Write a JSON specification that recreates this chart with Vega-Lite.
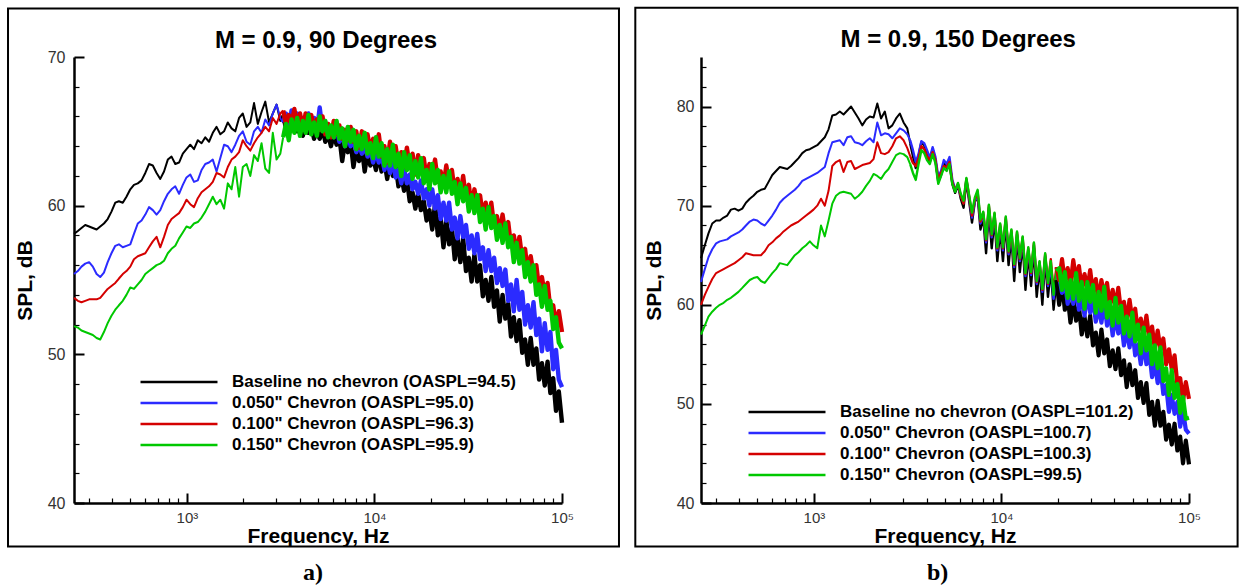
{
"$schema": "https://vega.github.io/schema/vega-lite/v6.json",
"background": "white",
"padding": {"left": 7, "top": 6, "right": 2, "bottom": 0},
"spacing": 14,
"config": {
 "font": "Liberation Sans",
 "view": {"stroke": null},
 "axis": {"grid": false, "domainColor": "black", "tickColor": "black", "labelColor": "#333333", "labelFont": "Liberation Sans", "labelFontSize": 15, "titleFont": "Liberation Sans", "titleFontWeight": "bold", "titleFontSize": 21, "titleColor": "black", "labelFlush": false, "labelOverlap": false},
 "legend": {"orient": "none", "title": null, "symbolType": "M-5,0H5", "symbolSize": 237, "symbolStrokeWidth": 2.5, "labelFont": "Liberation Sans", "labelFontSize": 17, "labelFontWeight": "bold", "labelColor": "black", "labelOffset": 44, "rowPadding": 4, "padding": 0, "labelLimit": 400}
},
"datasets": {
"p90": [
{"f":250,"a":58.1,"b":55.4,"c":53.8,"d":51.9},
{"f":262,"a":58.3,"b":55.6,"c":53.6,"d":51.8},
{"f":274,"a":58.5,"b":55.9,"c":53.5,"d":51.6},
{"f":287,"a":58.7,"b":56.1,"c":53.6,"d":51.5},
{"f":301,"a":58.6,"b":56.2,"c":53.7,"d":51.4},
{"f":315,"a":58.5,"b":55.9,"c":53.7,"d":51.3},
{"f":330,"a":58.4,"b":55.4,"c":53.7,"d":51.1},
{"f":345,"a":58.6,"b":55.2,"c":53.8,"d":51.0},
{"f":361,"a":58.8,"b":55.5,"c":54.1,"d":51.5},
{"f":378,"a":59.1,"b":56.2,"c":54.4,"d":52.1},
{"f":396,"a":59.6,"b":56.8,"c":54.6,"d":52.6},
{"f":415,"a":60.2,"b":57.3,"c":54.8,"d":53.0},
{"f":434,"a":60.3,"b":57.4,"c":55.1,"d":53.3},
{"f":455,"a":60.2,"b":57.2,"c":55.4,"d":53.6},
{"f":476,"a":60.6,"b":57.3,"c":55.6,"d":54.0},
{"f":499,"a":61.1,"b":57.4,"c":55.9,"d":54.5},
{"f":522,"a":61.4,"b":58.1,"c":56.4,"d":54.4},
{"f":547,"a":61.5,"b":58.8,"c":56.6,"d":54.7},
{"f":573,"a":61.7,"b":59.0,"c":56.7,"d":55.0},
{"f":600,"a":62.2,"b":59.4,"c":56.8,"d":55.4},
{"f":628,"a":62.8,"b":59.9,"c":57.2,"d":55.6},
{"f":658,"a":62.7,"b":59.7,"c":57.6,"d":55.8},
{"f":689,"a":62.2,"b":59.4,"c":57.9,"d":56.0},
{"f":721,"a":61.8,"b":59.7,"c":57.2,"d":56.1},
{"f":755,"a":62.3,"b":60.3,"c":57.9,"d":56.3},
{"f":791,"a":63.1,"b":60.8,"c":58.7,"d":56.8},
{"f":828,"a":63.3,"b":61.1,"c":59.1,"d":57.1},
{"f":867,"a":62.8,"b":61.3,"c":59.3,"d":57.3},
{"f":908,"a":62.9,"b":60.8,"c":59.5,"d":57.8},
{"f":951,"a":63.5,"b":61.4,"c":59.9,"d":58.2},
{"f":995,"a":63.8,"b":61.9,"c":60.4,"d":58.6},
{"f":1042,"a":64.1,"b":62.1,"c":60.1,"d":58.5},
{"f":1091,"a":63.8,"b":61.6,"c":59.9,"d":58.8},
{"f":1143,"a":64.4,"b":61.7,"c":60.5,"d":58.9},
{"f":1197,"a":64.2,"b":62.4,"c":60.9,"d":59.2},
{"f":1253,"a":64.6,"b":62.8,"c":61.1,"d":59.6},
{"f":1312,"a":64.3,"b":62.9,"c":61.3,"d":60.1},
{"f":1374,"a":64.9,"b":63.1,"c":61.6,"d":60.6},
{"f":1439,"a":65.3,"b":62.3,"c":62.2,"d":60.1},
{"f":1507,"a":64.8,"b":63.2,"c":62.1,"d":60.4},
{"f":1578,"a":65.0,"b":64.1,"c":61.9,"d":59.8},
{"f":1652,"a":65.6,"b":64.0,"c":62.6,"d":61.5},
{"f":1730,"a":65.2,"b":63.6,"c":63.1,"d":61.1},
{"f":1811,"a":65.0,"b":64.1,"c":63.3,"d":62.6},
{"f":1897,"a":65.9,"b":64.7,"c":63.6,"d":60.6},
{"f":1986,"a":66.2,"b":65.0,"c":64.4,"d":62.6},
{"f":2080,"a":65.3,"b":64.3,"c":64.0,"d":62.8},
{"f":2178,"a":65.6,"b":64.1,"c":63.7,"d":62.0},
{"f":2280,"a":66.9,"b":65.0,"c":64.2,"d":63.4},
{"f":2388,"a":65.5,"b":65.3,"c":64.6,"d":63.0},
{"f":2500,"a":66.3,"b":64.9,"c":64.9,"d":64.2},
{"f":2618,"a":67.0,"b":65.8,"c":65.3,"d":62.5},
{"f":2742,"a":65.6,"b":65.4,"c":65.0,"d":62.2},
{"f":2871,"a":66.2,"b":66.2,"c":65.9,"d":64.9},
{"f":3006,"a":66.8,"b":66.8,"c":65.5,"d":63.1},
{"f":3148,"a":65.7,"b":65.9,"c":66.2,"d":63.5},
{"f":3260,"a":66.1,"b":65.6,"c":66.4,"d":64.6},
{"f":3373,"a":65.2,"b":66.2,"c":65.5,"d":65.5},
{"f":3491,"a":65.9,"b":65.4,"c":66.1,"d":64.4},
{"f":3614,"a":65.2,"b":66.4,"c":65.5,"d":65.8},
{"f":3741,"a":65.9,"b":65.7,"c":66.5,"d":64.9},
{"f":3873,"a":65.0,"b":66.2,"c":65.4,"d":65.9},
{"f":4009,"a":65.5,"b":65.4,"c":66.2,"d":64.7},
{"f":4150,"a":64.7,"b":65.9,"c":65.1,"d":65.7},
{"f":4295,"a":65.6,"b":65.4,"c":66.2,"d":64.9},
{"f":4446,"a":64.9,"b":66.2,"c":65.5,"d":66.1},
{"f":4603,"a":65.4,"b":65.3,"c":66.1,"d":64.8},
{"f":4764,"a":64.5,"b":65.9,"c":65.1,"d":65.6},
{"f":4932,"a":65.0,"b":65.0,"c":65.8,"d":64.7},
{"f":5105,"a":64.5,"b":66.6,"c":65.1,"d":66.0},
{"f":5284,"a":65.2,"b":65.1,"c":66.0,"d":65.0},
{"f":5470,"a":64.3,"b":65.6,"c":64.8,"d":65.7},
{"f":5662,"a":64.8,"b":64.7,"c":65.5,"d":64.6},
{"f":5861,"a":64.0,"b":65.3,"c":64.6,"d":65.4},
{"f":6067,"a":64.8,"b":64.6,"c":65.7,"d":64.6},
{"f":6281,"a":64.1,"b":65.3,"c":64.8,"d":65.7},
{"f":6501,"a":64.6,"b":64.3,"c":65.4,"d":64.5},
{"f":6730,"a":63.0,"b":64.8,"c":64.5,"d":65.2},
{"f":6966,"a":64.3,"b":64.0,"c":65.1,"d":64.0},
{"f":7211,"a":63.6,"b":64.8,"c":64.4,"d":65.3},
{"f":7464,"a":64.3,"b":64.0,"c":65.3,"d":64.3},
{"f":7727,"a":62.6,"b":64.5,"c":64.3,"d":65.1},
{"f":7998,"a":63.8,"b":63.6,"c":65.0,"d":63.8},
{"f":8279,"a":63.0,"b":64.1,"c":63.9,"d":64.7},
{"f":8570,"a":63.9,"b":63.5,"c":65.0,"d":63.8},
{"f":8872,"a":62.3,"b":64.2,"c":64.2,"d":64.9},
{"f":9183,"a":63.6,"b":63.3,"c":64.8,"d":63.5},
{"f":9506,"a":62.7,"b":63.8,"c":63.8,"d":64.2},
{"f":9840,"a":63.2,"b":62.9,"c":64.5,"d":63.2},
{"f":10186,"a":62.4,"b":63.7,"c":63.6,"d":64.6},
{"f":10544,"a":63.5,"b":62.9,"c":64.8,"d":63.3},
{"f":10914,"a":62.3,"b":63.5,"c":63.3,"d":64.2},
{"f":11298,"a":63.0,"b":62.4,"c":64.0,"d":62.7},
{"f":11695,"a":61.8,"b":63.1,"c":62.9,"d":63.8},
{"f":12106,"a":63.0,"b":62.2,"c":64.3,"d":62.7},
{"f":12531,"a":62.0,"b":63.1,"c":63.1,"d":64.1},
{"f":12972,"a":62.7,"b":61.9,"c":64.0,"d":62.6},
{"f":13428,"a":61.3,"b":62.4,"c":62.7,"d":63.5},
{"f":13900,"a":62.0,"b":61.5,"c":63.6,"d":62.0},
{"f":14388,"a":61.0,"b":62.5,"c":62.6,"d":63.6},
{"f":14894,"a":61.8,"b":61.5,"c":63.9,"d":62.4},
{"f":15417,"a":60.3,"b":62.1,"c":62.6,"d":63.4},
{"f":15959,"a":60.9,"b":61.1,"c":63.5,"d":61.8},
{"f":16520,"a":59.8,"b":61.6,"c":62.1,"d":63.0},
{"f":17100,"a":60.8,"b":60.8,"c":63.4,"d":61.9},
{"f":17701,"a":59.7,"b":61.7,"c":62.4,"d":63.2},
{"f":18323,"a":60.3,"b":60.5,"c":63.2,"d":61.5},
{"f":18967,"a":59.0,"b":61.1,"c":61.8,"d":62.4},
{"f":19634,"a":59.7,"b":60.0,"c":62.8,"d":61.1},
{"f":20324,"a":58.4,"b":61.1,"c":61.9,"d":62.8},
{"f":21038,"a":60.1,"b":59.8,"c":63.1,"d":61.5},
{"f":21777,"a":58.0,"b":60.7,"c":61.6,"d":62.4},
{"f":22542,"a":59.2,"b":59.1,"c":62.3,"d":60.9},
{"f":23335,"a":57.2,"b":60.2,"c":61.3,"d":62.0},
{"f":24155,"a":59.0,"b":59.0,"c":62.7,"d":60.9},
{"f":25003,"a":57.4,"b":60.2,"c":61.5,"d":62.3},
{"f":25882,"a":58.5,"b":58.4,"c":62.4,"d":60.8},
{"f":26792,"a":56.4,"b":59.2,"c":60.9,"d":61.6},
{"f":27733,"a":57.8,"b":57.8,"c":61.8,"d":60.1},
{"f":28708,"a":56.2,"b":59.3,"c":60.7,"d":61.5},
{"f":29717,"a":57.8,"b":57.9,"c":62.0,"d":60.3},
{"f":30761,"a":55.6,"b":58.7,"c":60.5,"d":61.2},
{"f":31842,"a":56.5,"b":57.1,"c":61.4,"d":59.6},
{"f":32961,"a":54.9,"b":58.0,"c":59.9,"d":60.7},
{"f":34119,"a":56.7,"b":56.8,"c":61.1,"d":59.5},
{"f":35318,"a":54.9,"b":58.1,"c":60.0,"d":60.7},
{"f":36559,"a":56.0,"b":56.4,"c":60.7,"d":58.9},
{"f":37844,"a":53.9,"b":57.2,"c":59.3,"d":59.8},
{"f":39174,"a":55.0,"b":55.6,"c":60.2,"d":58.4},
{"f":40551,"a":53.6,"b":57.0,"c":59.1,"d":59.9},
{"f":41976,"a":55.2,"b":55.6,"c":60.2,"d":58.5},
{"f":43451,"a":53.2,"b":56.5,"c":58.6,"d":59.3},
{"f":44978,"a":54.3,"b":54.8,"c":59.3,"d":57.7},
{"f":46559,"a":52.2,"b":55.8,"c":58.1,"d":58.7},
{"f":48195,"a":54.0,"b":54.6,"c":59.4,"d":57.5},
{"f":49888,"a":52.4,"b":55.7,"c":58.1,"d":58.8},
{"f":51642,"a":53.4,"b":53.6,"c":58.9,"d":57.2},
{"f":53456,"a":51.2,"b":54.7,"c":57.3,"d":57.9},
{"f":55335,"a":52.5,"b":52.9,"c":58.0,"d":56.2},
{"f":57280,"a":50.9,"b":55.0,"c":56.8,"d":57.5},
{"f":59293,"a":52.3,"b":53.0,"c":57.9,"d":56.1},
{"f":61376,"a":50.1,"b":54.2,"c":56.4,"d":57.0},
{"f":63533,"a":51.0,"b":52.0,"c":57.1,"d":55.2},
{"f":65766,"a":49.3,"b":53.3,"c":55.5,"d":56.2},
{"f":68077,"a":51.1,"b":51.8,"c":56.6,"d":54.9},
{"f":70469,"a":49.3,"b":53.5,"c":55.4,"d":56.0},
{"f":72946,"a":50.4,"b":51.3,"c":56.0,"d":54.0},
{"f":75509,"a":48.3,"b":52.4,"c":54.4,"d":54.7},
{"f":78163,"a":49.4,"b":50.2,"c":55.2,"d":53.2},
{"f":80910,"a":47.9,"b":52.1,"c":54.0,"d":54.6},
{"f":83753,"a":49.5,"b":50.3,"c":54.8,"d":53.0},
{"f":86696,"a":47.4,"b":51.5,"c":53.0,"d":53.6},
{"f":89743,"a":48.4,"b":49.0,"c":53.3,"d":51.7},
{"f":92897,"a":46.2,"b":50.3,"c":51.9,"d":52.5},
{"f":96161,"a":47.5,"b":48.3,"c":52.9,"d":50.8},
{"f":100000,"a":45.4,"b":47.8,"c":51.5,"d":50.4}
],
"p150": [
{"f":250,"a":64.7,"b":62.3,"c":60.0,"d":57.0},
{"f":262,"a":66.0,"b":63.6,"c":61.0,"d":57.9},
{"f":274,"a":67.2,"b":64.8,"c":61.8,"d":58.8},
{"f":287,"a":68.2,"b":65.6,"c":62.6,"d":59.3},
{"f":301,"a":68.5,"b":66.2,"c":63.2,"d":59.7},
{"f":315,"a":68.5,"b":66.4,"c":63.4,"d":60.0},
{"f":330,"a":68.8,"b":66.5,"c":63.6,"d":60.2},
{"f":345,"a":69.0,"b":66.6,"c":63.8,"d":60.5},
{"f":361,"a":69.6,"b":66.9,"c":64.0,"d":60.7},
{"f":378,"a":69.7,"b":67.1,"c":64.2,"d":61.0},
{"f":396,"a":69.5,"b":67.3,"c":64.5,"d":61.3},
{"f":415,"a":69.7,"b":67.6,"c":64.8,"d":61.7},
{"f":434,"a":70.3,"b":68.0,"c":65.2,"d":62.1},
{"f":455,"a":70.7,"b":68.4,"c":65.1,"d":62.5},
{"f":476,"a":71.0,"b":68.6,"c":65.0,"d":62.7},
{"f":499,"a":71.4,"b":68.5,"c":65.0,"d":62.8},
{"f":522,"a":71.6,"b":68.2,"c":65.0,"d":62.4},
{"f":547,"a":71.7,"b":68.0,"c":65.4,"d":62.2},
{"f":573,"a":72.4,"b":68.5,"c":66.0,"d":62.7},
{"f":600,"a":73.1,"b":69.0,"c":66.3,"d":63.2},
{"f":628,"a":73.5,"b":69.6,"c":66.7,"d":63.6},
{"f":658,"a":73.9,"b":70.3,"c":67.0,"d":64.2},
{"f":689,"a":73.8,"b":70.7,"c":67.4,"d":64.1},
{"f":721,"a":73.7,"b":71.0,"c":67.7,"d":64.0},
{"f":755,"a":74.0,"b":71.3,"c":68.0,"d":64.5},
{"f":791,"a":74.4,"b":71.6,"c":68.2,"d":65.0},
{"f":828,"a":74.8,"b":72.0,"c":68.4,"d":65.3},
{"f":867,"a":75.3,"b":72.5,"c":68.7,"d":65.7},
{"f":908,"a":75.6,"b":72.7,"c":69.0,"d":66.0},
{"f":951,"a":75.7,"b":72.9,"c":69.3,"d":66.4},
{"f":995,"a":75.9,"b":73.1,"c":69.6,"d":66.0},
{"f":1042,"a":76.1,"b":73.3,"c":70.0,"d":65.7},
{"f":1091,"a":76.5,"b":73.6,"c":70.7,"d":68.0},
{"f":1143,"a":76.9,"b":73.9,"c":70.0,"d":66.9},
{"f":1197,"a":77.7,"b":75.3,"c":71.5,"d":68.5},
{"f":1253,"a":79.1,"b":76.4,"c":74.0,"d":70.2},
{"f":1312,"a":79.2,"b":76.5,"c":74.4,"d":71.0},
{"f":1374,"a":79.5,"b":76.6,"c":74.6,"d":71.3},
{"f":1439,"a":79.2,"b":76.1,"c":73.4,"d":71.4},
{"f":1507,"a":79.6,"b":76.9,"c":74.4,"d":71.3},
{"f":1578,"a":80.0,"b":77.0,"c":74.5,"d":71.2},
{"f":1652,"a":79.4,"b":76.4,"c":73.7,"d":70.7},
{"f":1730,"a":78.8,"b":76.3,"c":73.9,"d":71.0},
{"f":1811,"a":78.1,"b":76.1,"c":74.1,"d":71.4},
{"f":1897,"a":78.7,"b":76.5,"c":74.2,"d":72.0},
{"f":1986,"a":79.0,"b":76.8,"c":74.3,"d":72.5},
{"f":2080,"a":78.9,"b":76.4,"c":74.7,"d":73.2},
{"f":2178,"a":80.3,"b":78.4,"c":76.4,"d":73.0},
{"f":2280,"a":78.8,"b":77.1,"c":75.3,"d":72.7},
{"f":2388,"a":79.5,"b":77.3,"c":75.2,"d":73.3},
{"f":2500,"a":77.8,"b":77.2,"c":75.4,"d":73.7},
{"f":2618,"a":78.1,"b":76.8,"c":76.0,"d":74.4},
{"f":2742,"a":78.8,"b":77.3,"c":76.8,"d":75.1},
{"f":2871,"a":79.3,"b":77.8,"c":77.0,"d":75.3},
{"f":3006,"a":78.4,"b":77.6,"c":76.6,"d":75.2},
{"f":3148,"a":77.8,"b":77.2,"c":75.8,"d":74.9},
{"f":3260,"a":76.3,"b":76.6,"c":75.0,"d":74.2},
{"f":3373,"a":75.0,"b":75.6,"c":74.3,"d":73.3},
{"f":3491,"a":73.8,"b":74.4,"c":74.0,"d":72.6},
{"f":3614,"a":75.0,"b":75.2,"c":74.8,"d":74.2},
{"f":3741,"a":76.4,"b":76.5,"c":76.0,"d":75.6},
{"f":3873,"a":76.1,"b":76.3,"c":75.7,"d":75.3},
{"f":4009,"a":75.0,"b":75.6,"c":75.0,"d":74.6},
{"f":4150,"a":74.4,"b":74.8,"c":74.6,"d":74.2},
{"f":4295,"a":75.7,"b":75.9,"c":75.4,"d":75.2},
{"f":4446,"a":74.6,"b":74.9,"c":74.6,"d":74.3},
{"f":4603,"a":72.4,"b":72.9,"c":72.6,"d":72.2},
{"f":4764,"a":73.1,"b":73.5,"c":73.3,"d":73.0},
{"f":4932,"a":74.3,"b":74.6,"c":74.0,"d":73.8},
{"f":5105,"a":73.8,"b":74.2,"c":73.9,"d":73.5},
{"f":5284,"a":74.3,"b":74.9,"c":74.4,"d":74.2},
{"f":5470,"a":72.2,"b":72.6,"c":72.4,"d":72.2},
{"f":5662,"a":71.3,"b":71.7,"c":71.5,"d":71.4},
{"f":5861,"a":72.1,"b":72.0,"c":72.2,"d":72.3},
{"f":6067,"a":70.7,"b":71.0,"c":71.0,"d":71.2},
{"f":6281,"a":69.8,"b":70.3,"c":70.2,"d":70.5},
{"f":6501,"a":72.5,"b":72.6,"c":72.7,"d":72.8},
{"f":6730,"a":70.4,"b":70.8,"c":70.9,"d":71.0},
{"f":6966,"a":68.3,"b":68.8,"c":69.0,"d":69.3},
{"f":7211,"a":70.4,"b":70.4,"c":70.6,"d":70.8},
{"f":7464,"a":71.0,"b":71.2,"c":71.4,"d":71.6},
{"f":7727,"a":67.6,"b":68.2,"c":68.4,"d":68.6},
{"f":7998,"a":68.8,"b":69.1,"c":69.3,"d":69.4},
{"f":8279,"a":65.2,"b":66.3,"c":66.5,"d":66.6},
{"f":8570,"a":69.5,"b":69.8,"c":70.0,"d":70.1},
{"f":8872,"a":65.7,"b":66.8,"c":67.0,"d":67.1},
{"f":9183,"a":68.7,"b":69.0,"c":69.2,"d":69.3},
{"f":9506,"a":64.4,"b":65.5,"c":65.7,"d":65.8},
{"f":9840,"a":67.6,"b":67.9,"c":68.1,"d":68.2},
{"f":10186,"a":64.4,"b":65.5,"c":65.7,"d":65.8},
{"f":10544,"a":68.3,"b":68.6,"c":68.8,"d":68.9},
{"f":10914,"a":64.0,"b":65.1,"c":65.3,"d":65.4},
{"f":11298,"a":67.0,"b":67.3,"c":67.5,"d":67.6},
{"f":11695,"a":62.4,"b":63.8,"c":64.0,"d":64.1},
{"f":12106,"a":66.8,"b":67.1,"c":67.3,"d":67.4},
{"f":12531,"a":63.3,"b":64.4,"c":64.6,"d":64.7},
{"f":12972,"a":66.3,"b":66.6,"c":66.8,"d":66.9},
{"f":13428,"a":61.5,"b":62.9,"c":63.1,"d":63.2},
{"f":13900,"a":65.2,"b":65.5,"c":65.7,"d":65.8},
{"f":14388,"a":61.9,"b":63.0,"c":63.2,"d":63.3},
{"f":14894,"a":65.7,"b":66.0,"c":66.2,"d":66.3},
{"f":15417,"a":60.8,"b":62.1,"c":62.3,"d":62.4},
{"f":15959,"a":63.8,"b":64.1,"c":64.3,"d":64.4},
{"f":16520,"a":60.0,"b":61.3,"c":61.5,"d":61.6},
{"f":17100,"a":64.6,"b":64.9,"c":65.1,"d":65.2},
{"f":17701,"a":60.8,"b":61.9,"c":62.1,"d":62.2},
{"f":18323,"a":63.6,"b":64.0,"c":64.6,"d":64.4},
{"f":18967,"a":59.5,"b":60.6,"c":61.3,"d":61.0},
{"f":19634,"a":62.5,"b":62.9,"c":63.8,"d":63.4},
{"f":20324,"a":60.0,"b":62.9,"c":62.5,"d":63.7},
{"f":21038,"a":62.2,"b":61.2,"c":64.6,"d":61.5},
{"f":21777,"a":59.5,"b":62.5,"c":62.3,"d":63.3},
{"f":22542,"a":60.9,"b":60.1,"c":63.7,"d":60.7},
{"f":23335,"a":58.2,"b":61.8,"c":62.0,"d":62.5},
{"f":24155,"a":60.6,"b":60.1,"c":64.5,"d":60.6},
{"f":25003,"a":58.4,"b":62.0,"c":62.5,"d":63.2},
{"f":25882,"a":59.9,"b":59.5,"c":63.9,"d":60.4},
{"f":26792,"a":57.0,"b":60.7,"c":61.6,"d":62.3},
{"f":27733,"a":58.8,"b":58.9,"c":63.1,"d":59.6},
{"f":28708,"a":56.8,"b":61.2,"c":61.5,"d":62.3},
{"f":29717,"a":58.9,"b":59.2,"c":63.5,"d":60.3},
{"f":30761,"a":55.9,"b":60.6,"c":61.2,"d":62.0},
{"f":31842,"a":57.2,"b":58.3,"c":62.6,"d":59.2},
{"f":32961,"a":54.9,"b":59.8,"c":60.4,"d":61.3},
{"f":34119,"a":57.5,"b":58.2,"c":62.5,"d":59.4},
{"f":35318,"a":55.1,"b":60.3,"c":60.9,"d":61.8},
{"f":36559,"a":56.5,"b":57.9,"c":62.2,"d":58.7},
{"f":37844,"a":53.8,"b":59.3,"c":59.8,"d":60.3},
{"f":39174,"a":55.4,"b":56.9,"c":61.5,"d":57.9},
{"f":40551,"a":53.5,"b":58.9,"c":59.8,"d":60.7},
{"f":41976,"a":55.6,"b":57.1,"c":61.7,"d":58.2},
{"f":43451,"a":52.9,"b":58.4,"c":59.2,"d":59.9},
{"f":44978,"a":54.4,"b":55.9,"c":60.3,"d":57.1},
{"f":46559,"a":51.7,"b":57.5,"c":58.3,"d":58.8},
{"f":48195,"a":54.0,"b":55.7,"c":60.5,"d":56.8},
{"f":49888,"a":51.9,"b":57.5,"c":58.4,"d":59.2},
{"f":51642,"a":53.4,"b":54.9,"c":59.6,"d":56.3},
{"f":53456,"a":50.6,"b":56.0,"c":57.2,"d":58.0},
{"f":55335,"a":52.2,"b":54.0,"c":58.6,"d":55.1},
{"f":57280,"a":50.1,"b":56.2,"c":57.0,"d":57.7},
{"f":59293,"a":52.1,"b":54.0,"c":58.9,"d":55.4},
{"f":61376,"a":48.9,"b":55.2,"c":56.5,"d":57.0},
{"f":63533,"a":50.2,"b":52.7,"c":57.8,"d":54.0},
{"f":65766,"a":47.8,"b":54.1,"c":55.5,"d":55.9},
{"f":68077,"a":50.3,"b":52.1,"c":57.4,"d":53.6},
{"f":70469,"a":47.8,"b":53.7,"c":55.5,"d":55.7},
{"f":72946,"a":49.2,"b":51.0,"c":56.6,"d":52.3},
{"f":75509,"a":46.4,"b":51.9,"c":54.0,"d":53.6},
{"f":78163,"a":47.9,"b":49.2,"c":55.5,"d":50.9},
{"f":80910,"a":45.9,"b":50.9,"c":53.5,"d":53.4},
{"f":83753,"a":48.0,"b":49.0,"c":54.9,"d":50.6},
{"f":86696,"a":45.3,"b":50.2,"c":51.9,"d":52.0},
{"f":89743,"a":46.7,"b":47.7,"c":52.6,"d":49.1},
{"f":92897,"a":44.0,"b":49.3,"c":50.3,"d":50.7},
{"f":96161,"a":46.3,"b":47.4,"c":52.2,"d":48.5},
{"f":100000,"a":43.9,"b":47.0,"c":50.5,"d":48.6}
]
},
"resolve": {"scale": {"x": "independent", "y": "independent", "color": "independent"}, "legend": {"color": "independent"}},
"hconcat": [
{
 "width": 488, "height": 446,
 "resolve": {"axis": {"x": "independent", "y": "independent"}},
 "layer": [
  {
   "data": {"values": [{}]},
   "mark": {"type": "rect", "filled": false, "stroke": "black", "strokeWidth": 2},
   "encoding": {
    "x": {"datum": 111.2, "type": "quantitative", "scale": {"type": "log", "domain": [250, 100000], "nice": false}, "axis": {"orient": "bottom", "values": [300,400,500,600,700,800,900,2000,3000,4000,5000,6000,7000,8000,9000,20000,30000,40000,50000,60000,70000,80000,90000], "labels": false, "domain": false, "tickSize": -5, "tickWidth": 1.2, "title": null}},
    "x2": {"datum": 201300},
    "y": {"datum": 73.27, "type": "quantitative", "scale": {"domain": [40, 70], "nice": false, "zero": false}, "axis": {"orient": "left", "values": [42,44,46,48,52,54,56,58,62,64,66,68], "labels": false, "domain": false, "tickSize": -5, "tickWidth": 1.2, "title": null}},
    "y2": {"datum": 37.07}
   }
  },
  {
   "data": {"values": [{}]},
   "mark": {"type": "text", "text": "M = 0.9, 90 Degrees", "font": "Liberation Sans", "fontSize": 24, "fontWeight": "bold", "align": "center", "baseline": "middle", "color": "black"},
   "encoding": {"x": {"datum": 5515, "type": "quantitative", "axis": null}, "y": {"datum": 71.1, "type": "quantitative", "axis": null}}
  },
  {
   "data": {"values": [{}]},
   "mark": {"type": "text", "text": "a)", "font": "Liberation Serif", "fontSize": 24, "fontWeight": "bold", "align": "center", "baseline": "middle", "color": "black"},
   "encoding": {"x": {"datum": 4701, "type": "quantitative", "axis": null}, "y": {"datum": 35.3, "type": "quantitative", "axis": null}}
  },
  {
   "data": {"name": "p90"},
   "transform": [{"fold": ["a", "b", "c", "d"], "as": ["s", "v"]}, {"filter": {"field": "f", "lte": 3260}}],
   "mark": {"type": "line", "strokeWidth": 2, "strokeJoin": "round"},
   "encoding": {
    "x": {"field": "f", "type": "quantitative", "axis": {"orient": "bottom", "values": [1000, 10000, 100000], "labelExpr": "datum.value == 1000 ? '10³' : datum.value == 10000 ? '10⁴' : '10⁵'", "tickSize": -10, "tickWidth": 2, "domainWidth": 2.5, "labelPadding": 17, "title": "Frequency, Hz", "titlePadding": 0}},
    "y": {"field": "v", "type": "quantitative", "axis": {"orient": "left", "values": [40, 50, 60, 70], "tickSize": -10, "tickWidth": 2, "domainWidth": 2.5, "labelPadding": 19, "labelFontSize": 16, "title": "SPL, dB", "titlePadding": 12}},
    "color": {"field": "s", "type": "nominal", "scale": {"domain": ["a", "b", "c", "d"], "range": ["#000000", "#2b2bff", "#d40000", "#00c800"]},
     "legend": {"legendX": 96, "legendY": 316, "labelExpr": "datum.label == 'a' ? 'Baseline no chevron (OASPL=94.5)' : datum.label == 'b' ? '0.050\"  Chevron (OASPL=95.0)' : datum.label == 'c' ? '0.100\" Chevron (OASPL=96.3)' : '0.150\" Chevron (OASPL=95.9)'"}}
   }
  },
  {
   "data": {"name": "p90"},
   "transform": [{"fold": ["a", "b", "c", "d"], "as": ["s", "v"]}, {"filter": {"field": "f", "gte": 3260}}],
   "mark": {"type": "line", "strokeWidth": 4.4, "strokeJoin": "round"},
   "encoding": {
    "x": {"field": "f", "type": "quantitative", "axis": null},
    "y": {"field": "v", "type": "quantitative", "axis": null},
    "color": {"field": "s", "type": "nominal"}
   }
  }
 ]
},
{
 "width": 488, "height": 446,
 "resolve": {"axis": {"x": "independent", "y": "independent"}},
 "layer": [
  {
   "data": {"values": [{}]},
   "mark": {"type": "rect", "filled": false, "stroke": "black", "strokeWidth": 2},
   "encoding": {
    "x": {"datum": 111.6, "type": "quantitative", "scale": {"type": "log", "domain": [250, 100000], "nice": false}, "axis": {"orient": "bottom", "values": [300,400,500,600,700,800,900,2000,3000,4000,5000,6000,7000,8000,9000,20000,30000,40000,50000,60000,70000,80000,90000], "labels": false, "domain": false, "tickSize": -5, "tickWidth": 1.2, "title": null}},
    "x2": {"datum": 181600},
    "y": {"datum": 89.97, "type": "quantitative", "scale": {"domain": [40, 85], "nice": false, "zero": false}, "axis": {"orient": "left", "values": [42,44,46,48,52,54,56,58,62,64,66,68,72,74,76,78,82,84], "labels": false, "domain": false, "tickSize": -5, "tickWidth": 1.2, "title": null}},
    "y2": {"datum": 35.61}
   }
  },
  {
   "data": {"values": [{}]},
   "mark": {"type": "text", "text": "M = 0.9, 150 Degrees", "font": "Liberation Sans", "fontSize": 24, "fontWeight": "bold", "align": "center", "baseline": "middle", "color": "black"},
   "encoding": {"x": {"datum": 5880, "type": "quantitative", "axis": null}, "y": {"datum": 86.7, "type": "quantitative", "axis": null}}
  },
  {
   "data": {"values": [{}]},
   "mark": {"type": "text", "text": "b)", "font": "Liberation Serif", "fontSize": 24, "fontWeight": "bold", "align": "center", "baseline": "middle", "color": "black"},
   "encoding": {"x": {"datum": 4566, "type": "quantitative", "axis": null}, "y": {"datum": 32.95, "type": "quantitative", "axis": null}}
  },
  {
   "data": {"name": "p150"},
   "transform": [{"fold": ["a", "b", "c", "d"], "as": ["s", "v"]}, {"filter": {"field": "f", "lte": 3260}}],
   "mark": {"type": "line", "strokeWidth": 2, "strokeJoin": "round"},
   "encoding": {
    "x": {"field": "f", "type": "quantitative", "axis": {"orient": "bottom", "values": [1000, 10000, 100000], "labelExpr": "datum.value == 1000 ? '10³' : datum.value == 10000 ? '10⁴' : '10⁵'", "tickSize": -10, "tickWidth": 2, "domainWidth": 2.5, "labelPadding": 17, "title": "Frequency, Hz", "titlePadding": 0}},
    "y": {"field": "v", "type": "quantitative", "axis": {"orient": "left", "values": [40, 50, 60, 70, 80], "tickSize": -10, "tickWidth": 2, "domainWidth": 2.5, "labelPadding": 17, "labelFontSize": 16, "title": "SPL, dB", "titlePadding": 12}},
    "color": {"field": "s", "type": "nominal", "scale": {"domain": ["a", "b", "c", "d"], "range": ["#000000", "#2b2bff", "#d40000", "#00c800"]},
     "legend": {"legendX": 77, "legendY": 346, "labelExpr": "datum.label == 'a' ? 'Baseline no chevron (OASPL=101.2)' : datum.label == 'b' ? '0.050\" Chevron (OASPL=100.7)' : datum.label == 'c' ? '0.100\" Chevron (OASPL=100.3)' : '0.150\" Chevron (OASPL=99.5)'"}}
   }
  },
  {
   "data": {"name": "p150"},
   "transform": [{"fold": ["a", "b", "c", "d"], "as": ["s", "v"]}, {"filter": {"field": "f", "range": [3260, 19634]}}],
   "mark": {"type": "line", "strokeWidth": 2.4, "strokeJoin": "round"},
   "encoding": {
    "x": {"field": "f", "type": "quantitative", "axis": null},
    "y": {"field": "v", "type": "quantitative", "axis": null},
    "color": {"field": "s", "type": "nominal"}
   }
  },
  {
   "data": {"name": "p150"},
   "transform": [{"fold": ["a", "b", "c", "d"], "as": ["s", "v"]}, {"filter": {"field": "f", "gte": 19634}}],
   "mark": {"type": "line", "strokeWidth": 4.2, "strokeJoin": "round"},
   "encoding": {
    "x": {"field": "f", "type": "quantitative", "axis": null},
    "y": {"field": "v", "type": "quantitative", "axis": null},
    "color": {"field": "s", "type": "nominal"}
   }
  }
 ]
}
]
}
